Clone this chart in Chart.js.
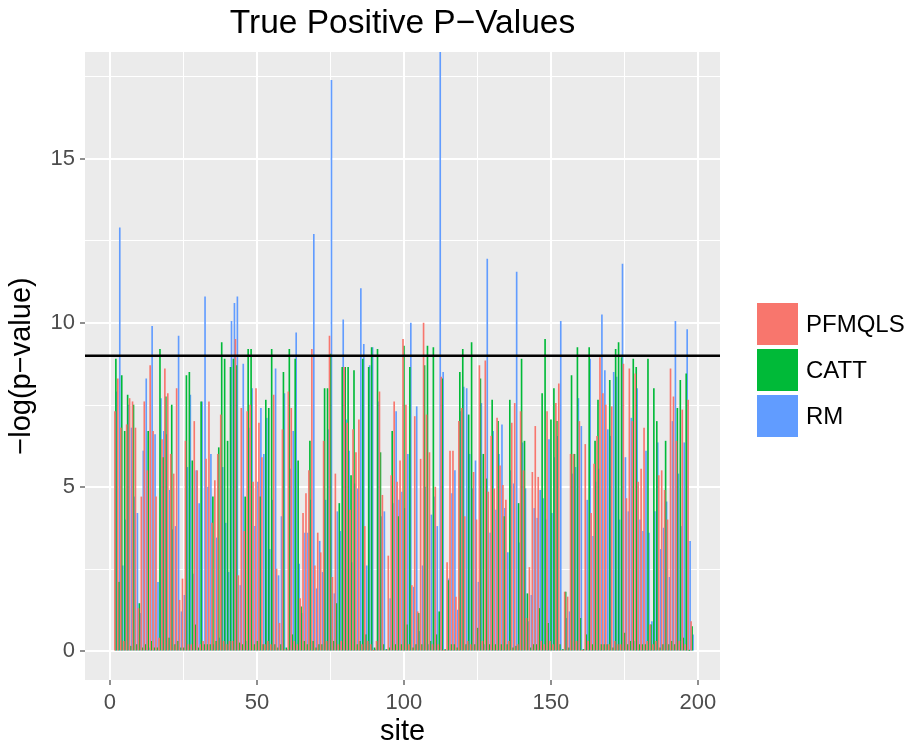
<!DOCTYPE html>
<html>
<head>
<meta charset="utf-8">
<script src="https://cdn.jsdelivr.net/npm/chart.js@4.4.1/dist/chart.umd.min.js"></script>
<style>
  html, body { margin: 0; padding: 0; background: #ffffff; }
</style>
</head>
<body>
<canvas id="pvalChart" width="909" height="749"></canvas>
<script>
// sites 2..198, three dodged bars per site
const firstSite = 2;
const seriesNames = ['PFMQLS', 'CATT', 'RM'];
const seriesColors = ['#F8766D', '#00BA38', '#619CFF'];

const pfmqls = [
  7.3, 8.3, 6.8, 0.3, 6.9, 7.7, 7.6, 6.8, 1.3, 4.7,
  7.6, 5.5, 8.7, 6.7, 4.7, 0.4, 6.45, 8.6, 7.85, 6.0,
  5.4, 8.0, 1.55, 2.2, 6.4, 0.2, 0.2, 7.0, 5.5, 0.2,
  0.3, 5.85, 7.6, 3.9, 5.2, 6.0, 7.2, 0.3, 0.2, 0.3,
  0.3, 9.5, 2.3, 7.4, 3.65, 7.3, 7.5, 5.15, 8.0,
  6.95, 5.9, 0.2, 0.3, 0.2, 7.8, 2.5, 0.85, 6.75, 0.05,
  7.9, 7.4, 0.3, 0.2, 1.6, 4.2, 4.8, 5.5, 9.2, 2.6,
  3.6, 3.0, 6.4, 0.3, 9.6, 2.25, 5.4, 0.2, 0.3, 8.65,
  6.95, 4.3, 6.75, 6.05, 7.05, 0.2, 3.8, 0.3, 0.2, 0.02,
  0.3, 7.9, 4.75, 0.03, 2.9, 5.35, 7.6, 5.15, 5.8, 9.5,
  7.5, 0.2, 2.0, 7.15, 1.2, 5.85, 10.0, 7.2, 6.05, 0.2,
  5.0, 0.2, 8.35, 0.02, 2.7, 6.1, 6.1, 1.65, 7.0, 7.4,
  4.1, 0.3, 0.2, 5.45, 4.0, 8.7, 0.3, 8.85, 4.85, 6.55,
  4.95, 7.1, 5.65, 5.05, 4.6, 0.3, 6.95, 7.55, 0.2, 7.3,
  5.5, 1.0, 2.55, 5.45, 6.85, 5.3, 0.3, 0.2, 7.3, 0.3,
  0.2, 7.55, 8.15, 0.03, 1.8, 1.65, 6.0, 6.0, 0.3, 7.0,
  0.02, 6.3, 0.3, 4.2, 5.7, 6.55, 8.95, 7.85, 7.5, 0.2,
  7.45, 0.3, 0.2, 0.2, 8.75, 4.65, 8.6, 7.0, 8.45, 5.15,
  5.55, 6.8, 0.3, 0.8, 0.2, 0.3, 5.35, 5.5, 4.9, 4.0,
  8.6, 7.75, 6.4, 0.3, 7.35, 0.2, 7.65, 0.9
];

const catt = [
  8.9, 2.1, 8.4, 6.7, 7.8, 0.15, 7.5, 0.2, 1.45, 0.1,
  0.2, 6.7, 0.3, 0.1, 0.1, 9.2, 5.9, 7.75, 0.4, 7.5,
  0.2, 0.3, 0.1, 0.1, 8.4, 8.5, 5.8, 0.8, 0.1, 7.6,
  0.2, 0.2, 0.2, 4.7, 0.3, 6.2, 9.4, 8.9, 6.4, 8.65,
  8.9, 8.7, 0.25, 0.2, 4.7, 9.2, 9.2, 0.2, 0.3,
  4.7, 0.2, 7.65, 7.4, 9.2, 0.2, 0.1, 0.2, 8.5, 0.1,
  9.2, 0.5, 8.9, 5.8, 1.35, 0.3, 0.2, 6.4, 0.3, 0.1,
  0.2, 0.2, 8.0, 8.0, 9.05, 0.3, 1.45, 4.5, 8.65, 8.65,
  8.65, 5.35, 8.55, 0.2, 0.3, 8.9, 0.5, 8.65, 9.25, 0.1,
  9.2, 6.05, 0.2, 0.05, 0.1, 6.7, 0.2, 4.1, 0.2, 9.3,
  0.8, 8.65, 0.1, 0.2, 1.15, 0.2, 8.7, 9.3, 0.3, 9.25,
  0.5, 1.2, 8.3, 0.05, 2.15, 0.2, 0.2, 0.1, 8.5, 9.2,
  0.2, 7.2, 9.4, 0.2, 0.7, 8.3, 6.0, 5.25, 0.2, 7.65,
  0.2, 7.0, 0.2, 4.1, 0.2, 7.65, 0.1, 0.15, 4.5, 8.9,
  6.4, 1.75, 0.1, 0.2, 0.2, 1.3, 7.85, 9.5, 0.85, 7.05,
  8.0, 7.0, 0.2, 0.05, 1.8, 0.1, 8.4, 6.0, 9.25, 1.0,
  0.05, 0.5, 9.25, 0.2, 6.4, 7.65, 0.2, 0.2, 0.2, 8.25,
  0.1, 9.2, 9.4, 8.95, 0.55, 0.2, 0.3, 8.9, 8.65, 0.2,
  0.2, 0.2, 8.9, 0.8, 8.0, 7.0, 0.1, 0.2, 6.4, 0.2,
  0.3, 0.2, 7.4, 8.25, 0.4, 8.45, 0.02, 0.75
];

const rm = [
  7.9, 12.9, 2.6, 4.0, 7.5, 6.8, 4.7, 4.2, 1.15, 6.1,
  8.3, 0.1, 9.9, 6.6, 2.1, 7.7, 6.7, 6.6, 4.9, 3.7,
  3.8, 9.6, 1.2, 1.7, 5.6, 7.8, 2.35, 5.5, 4.5, 7.6,
  10.8, 5.0, 6.0, 0.2, 3.45, 0.4, 5.6, 3.9, 2.4, 10.05,
  10.6, 10.8, 2.0, 8.75, 0.3, 6.8, 8.0, 3.8, 5.15,
  7.4, 6.0, 7.1, 3.1, 4.6, 8.6, 2.3, 4.1, 7.85, 0.05,
  5.55, 6.7, 9.7, 2.65, 1.15, 3.6, 3.6, 4.6, 12.7, 1.9,
  3.35, 2.4, 4.6, 6.75, 17.4, 1.75, 4.25, 3.65, 10.1, 7.05,
  6.1, 2.7, 5.1, 4.95, 11.05, 9.35, 2.6, 8.7, 9.25, 0.05,
  7.6, 4.1, 4.25, 0.05, 1.6, 4.5, 7.3, 4.6, 4.85, 4.35,
  6.0, 10.0, 1.95, 7.45, 0.6, 2.6, 5.0, 0.2, 4.15, 4.7,
  3.8, 18.6, 8.5, 0.03, 2.2, 4.8, 5.5, 1.25, 7.3, 8.05,
  8.0, 6.0, 4.95, 5.8, 2.1, 7.55, 0.2, 11.95, 3.6, 6.7,
  4.3, 6.0, 6.9, 4.35, 3.0, 5.5, 5.1, 11.55, 3.3, 6.35,
  4.95, 0.9, 1.7, 4.35, 4.05, 4.9, 4.65, 4.0, 6.45, 4.2,
  5.9, 6.55, 10.05, 0.05, 1.0, 1.2, 5.4, 5.6, 7.7, 6.85,
  0.05, 4.6, 8.9, 3.5, 5.15, 5.55, 10.25, 8.55, 6.75, 6.55,
  8.5, 8.35, 4.0, 11.8, 5.9, 4.25, 7.1, 0.3, 8.0, 4.0,
  3.65, 6.1, 3.6, 0.9, 4.25, 6.35, 3.1, 3.75, 4.55, 2.25,
  7.0, 10.05, 5.4, 3.8, 6.35, 9.8, 3.35, 0.5
];

const xTicks = [0, 25, 50, 75, 100, 125, 150, 175, 200];
const yTicks = [0, 2.5, 5, 7.5, 10, 12.5, 15, 17.5];
const cutoff = 9;

const sites = pfmqls.map((v, i) => firstSite + i);
const allSeries = [pfmqls, catt, rm];

Chart.defaults.font.family = '"Liberation Sans", Arial, sans-serif';

// grey panel behind the grid
const panelBg = {
  id: 'panelBg',
  beforeDraw(chart) {
    const a = chart.chartArea;
    const ctx = chart.ctx;
    ctx.save();
    ctx.fillStyle = '#EBEBEB';
    ctx.fillRect(a.left, a.top, a.right - a.left, a.bottom - a.top);
    ctx.restore();
  }
};

// black horizontal cutoff line
const cutoffLine = {
  id: 'cutoffLine',
  afterDatasetsDraw(chart) {
    const a = chart.chartArea;
    const y = chart.scales.y.getPixelForValue(cutoff);
    const ctx = chart.ctx;
    ctx.save();
    ctx.strokeStyle = '#000000';
    ctx.lineWidth = 2.5;
    ctx.beginPath();
    ctx.moveTo(a.left, y);
    ctx.lineTo(a.right, y);
    ctx.stroke();
    ctx.restore();
  }
};

// ggplot style legend on the right
const sideLegend = {
  id: 'sideLegend',
  afterDraw(chart) {
    const ctx = chart.ctx;
    ctx.save();
    ctx.font = '24px "Liberation Sans", Arial, sans-serif';
    ctx.textBaseline = 'middle';
    ctx.textAlign = 'left';
    chart.data.datasets.forEach((ds, i) => {
      const top = 303 + i * 46;
      ctx.fillStyle = ds.backgroundColor;
      ctx.fillRect(757, top, 41, 42);
      ctx.fillStyle = '#000000';
      ctx.fillText(ds.label, 806, top + 22);
    });
    ctx.restore();
  }
};

new Chart(document.getElementById('pvalChart'), {
  type: 'bar',
  data: {
    datasets: allSeries.map((vals, k) => ({
      label: seriesNames[k],
      data: vals.map((v, i) => ({ x: sites[i], y: v })),
      backgroundColor: seriesColors[k],
      borderWidth: 0,
      categoryPercentage: 1.0,
      barPercentage: 1.0
    }))
  },
  options: {
    responsive: false,
    animation: false,
    devicePixelRatio: 1,
    layout: { padding: { left: 4.6, right: 189, top: 0, bottom: 0 } },
    plugins: {
      legend: { display: false },
      tooltip: { enabled: false },
      title: {
        display: true,
        text: 'True Positive P\u2212Values',
        fullSize: false,
        color: '#000000',
        font: { size: 33.5, weight: 'normal' },
        padding: { top: 4, bottom: 7.8 }
      }
    },
    scales: {
      x: {
        type: 'linear',
        min: -8.5,
        max: 207.5,
        offset: false,
        afterBuildTicks: (scale) => { scale.ticks = xTicks.map(v => ({ value: v })); },
        afterFit: (scale) => { scale.height = 69; },
        border: { display: false },
        grid: {
          offset: false,
          color: '#FFFFFF',
          lineWidth: (c) => (c.tick && c.tick.value % 50 === 0 ? 2 : 1),
          drawTicks: true,
          tickLength: 5,
          tickWidth: 1.1,
          tickColor: (c) => (c.tick && c.tick.value % 50 === 0 ? '#333333' : 'rgba(0,0,0,0)')
        },
        ticks: {
          autoSkip: false,
          maxRotation: 0,
          padding: 5,
          color: '#4D4D4D',
          font: { size: 22 },
          callback: (v) => (v % 50 === 0 ? String(v) : '')
        },
        title: {
          display: true,
          text: 'site',
          color: '#000000',
          font: { size: 29 },
          padding: { top: 0, bottom: 0 }
        }
      },
      y: {
        min: -0.88,
        max: 18.26,
        afterBuildTicks: (scale) => { scale.ticks = yTicks.map(v => ({ value: v })); },
        afterFit: (scale) => { scale.width = 80.4; },
        border: { display: false },
        grid: {
          color: '#FFFFFF',
          lineWidth: (c) => (c.tick && c.tick.value % 5 === 0 ? 2 : 1),
          drawTicks: true,
          tickLength: 5,
          tickWidth: 1.1,
          tickColor: (c) => (c.tick && c.tick.value % 5 === 0 ? '#333333' : 'rgba(0,0,0,0)')
        },
        ticks: {
          autoSkip: false,
          padding: 5,
          color: '#4D4D4D',
          font: { size: 22 },
          callback: (v) => (v % 5 === 0 ? String(v) : '')
        },
        title: {
          display: true,
          text: '\u2212log(p\u2212value)',
          color: '#000000',
          font: { size: 29 },
          padding: { top: 0, bottom: 0 }
        }
      }
    }
  },
  plugins: [panelBg, cutoffLine, sideLegend]
});
</script>
</body>
</html>
